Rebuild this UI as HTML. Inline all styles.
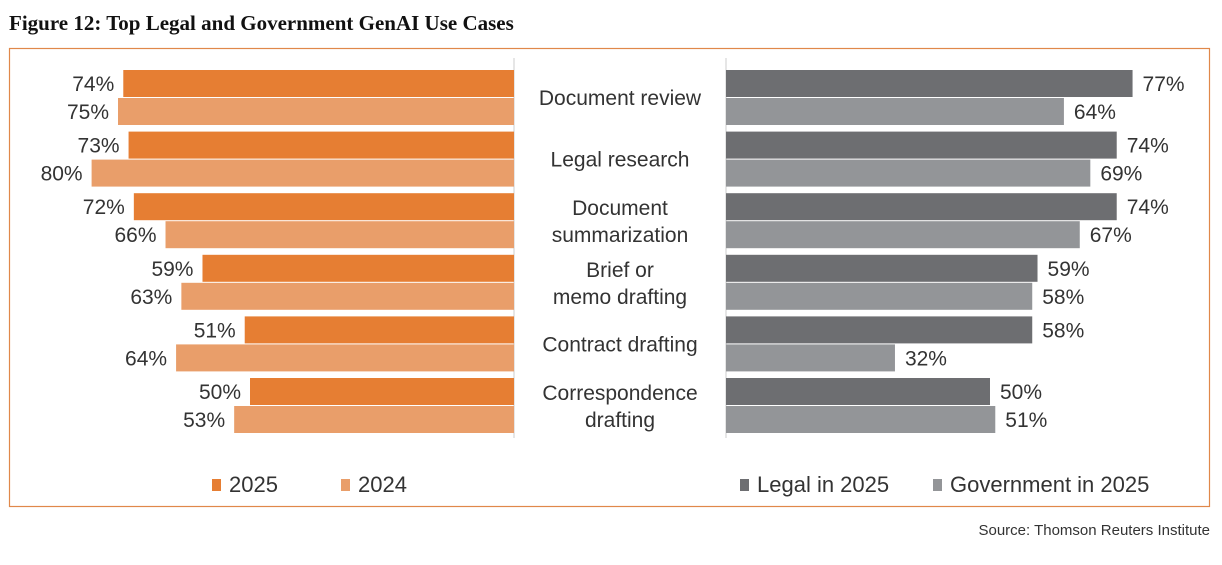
<!DOCTYPE html>
<html><head><meta charset="utf-8">
<style>
body{margin:0;background:#fff;width:1222px;height:560px;overflow:hidden;font-family:"Liberation Sans",sans-serif;}
svg text{font-family:"Liberation Sans",sans-serif;}
</style></head>
<body>
<svg id="chart" width="1222" height="560">
<text x="9" y="30" font-family="Liberation Serif" font-weight="bold" font-size="21" fill="#111" style="font-family:'Liberation Serif',serif">Figure 12: Top Legal and Government GenAI Use Cases</text>
<rect x="9.5" y="48.5" width="1200" height="458" fill="none" stroke="#E0884A" stroke-width="1.2"/>
<line x1="514" y1="58" x2="514" y2="438" stroke="#ccc"/>
<line x1="726" y1="58" x2="726" y2="438" stroke="#ccc"/>
<g id="bars"></g>
<g>
<rect x="212" y="479" width="9" height="12" fill="#E67E33"/>
<text x="229" y="492" font-size="22" fill="#333">2025</text>
<rect x="341" y="479" width="9" height="12" fill="#E99E6A"/>
<text x="358" y="492" font-size="22" fill="#333">2024</text>
<rect x="740" y="479" width="9" height="12" fill="#6D6E71"/>
<text x="757" y="492" font-size="22" fill="#333">Legal in 2025</text>
<rect x="933" y="479" width="9" height="12" fill="#939598"/>
<text x="950" y="492" font-size="22" fill="#333">Government in 2025</text>
</g>
<text x="1210" y="535" text-anchor="end" font-size="15" fill="#333">Source: Thomson Reuters Institute</text>
</svg>
<script>
const categories=[["Document review"],["Legal research"],["Document","summarization"],["Brief or","memo drafting"],["Contract drafting"],["Correspondence","drafting"]];
const v2025=[74,73,72,59,51,50];
const v2024=[75,80,66,63,64,53];
const legal2025=[77,74,74,59,58,50];
const gov2025=[64,69,67,58,32,51];
const NS="http://www.w3.org/2000/svg";
const g=document.getElementById('bars');
const scale=5.28, leftBase=514, rightBase=726, top0=70, pitch=61.6, bh=27;
const yRow=i=>top0+i*pitch;
const len=v=>v*scale;
function mk(tag,attrs){const e=document.createElementNS(NS,tag);for(const k in attrs)e.setAttribute(k,attrs[k]);g.appendChild(e);return e;}
function txt(x,y,s,anchor){const t=mk('text',{x:x,y:y,'text-anchor':anchor,'font-size':21,fill:'#333'});t.textContent=s;return t;}
categories.forEach((c,i)=>{
  const y=yRow(i);
  const series=[[v2025,'#E67E33','2025',0,true],[v2024,'#E99E6A','2024',bh+1,true],[legal2025,'#6D6E71','legal',0,false],[gov2025,'#939598','government',bh+1,false]];
  series.forEach(([arr,col,nm,off,left])=>{
    const L=len(arr[i]);
    const r=mk('rect',{x:left?leftBase-L:rightBase,y:y+off,width:L,height:bh,fill:col});
    
    
    const t=left?txt(leftBase-L-9,y+off+21,arr[i]+'%','end'):txt(rightBase+L+10,y+off+21,arr[i]+'%','start');
    
    
  });
  const cx=620, mid=y+bh+1;
  c.forEach((line,j)=>{
    const yy=c.length===1?mid+7:mid-6+j*27;
    const t=mk('text',{x:cx,y:yy,'text-anchor':'middle','font-size':21,fill:'#333'});
    t.textContent=line;
    
    
  });
});
</script>
</body></html>
